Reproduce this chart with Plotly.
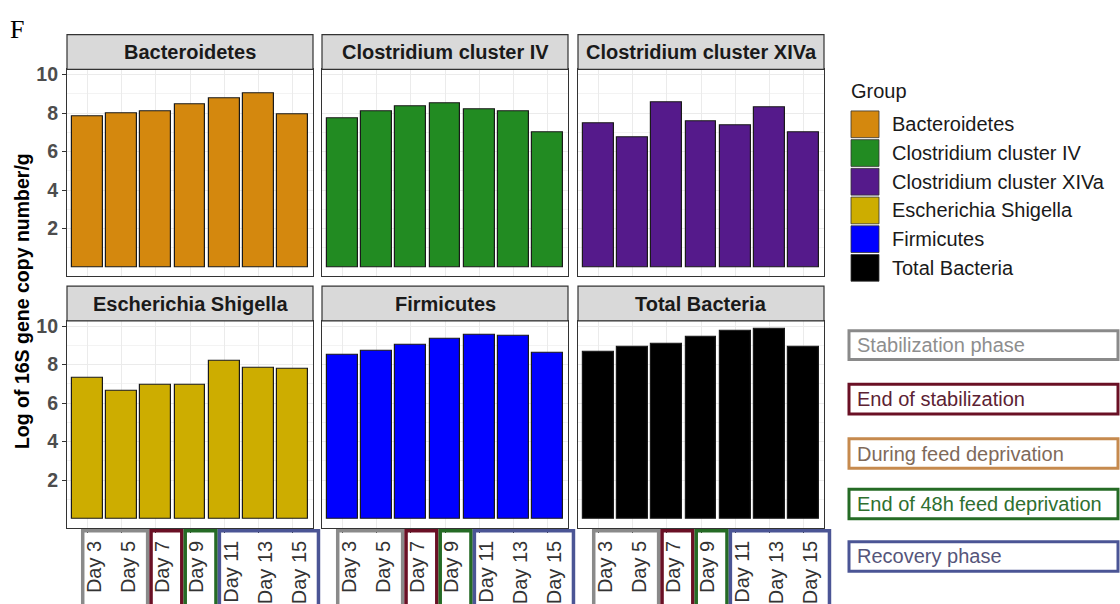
import plotly.graph_objects as go

# data (log10 16S copies per g)
days = ["Day 3", "Day 5", "Day 7", "Day 9", "Day 11", "Day 13", "Day 15"]
groups = ["Bacteroidetes", "Clostridium cluster IV", "Clostridium cluster XIVa",
          "Escherichia Shigella", "Firmicutes", "Total Bacteria"]
group_colors = ["#D4880E", "#228B22", "#551A8B", "#CDAD00", "#0000FF", "#000000"]

bacteroidetes = [7.85, 7.98, 8.10, 8.44, 8.75, 9.03, 7.93]
clostridium_iv = [7.71, 8.10, 8.36, 8.50, 8.17, 8.10, 6.99]
clostridium_xiva = [7.47, 6.74, 8.58, 7.59, 7.35, 8.32, 6.99]
escherichia_shigella = [7.33, 6.61, 6.92, 6.92, 8.18, 7.85, 7.78]
firmicutes = [8.48, 8.69, 9.04, 9.35, 9.56, 9.49, 8.62]
total_bacteria = [8.64, 8.92, 9.10, 9.44, 9.77, 9.83, 8.90]
series = [bacteroidetes, clostridium_iv, clostridium_xiva,
          escherichia_shigella, firmicutes, total_bacteria]

phase_names = ["Stabilization phase", "End of stabilization", "During feed deprivation",
               "End of 48h feed deprivation", "Recovery phase"]
phase_line = ["#8A8A8A", "#6A1025", "#C68A4E", "#256B25", "#4B5595"]
phase_text = ["#8E8E8E", "#5C2233", "#7F6A5A", "#2F6F2F", "#55557A"]
# which day indices are boxed under the x axis (During feed deprivation has none)
phase_days = [[0, 1], [2], [], [3], [4, 5, 6]]

W, H = 1120, 604
col_px = [(67, 313), (322, 568), (578, 824)]
row_px = [(64, 273), (318, 527)]
STRIP = 35
x_range = [-0.6, 6.6]
y_range = [-0.48, 10.27]
FONT = "Liberation Sans, Arial, sans-serif"


def px(v):
    return v / W


def py(v):
    return 1 - v / H


def cat_px(c, u):
    x0, x1 = col_px[c]
    return x0 + (u - x_range[0]) / (x_range[1] - x_range[0]) * (x1 - x0)


def label(text, x, y, size=20, color="#1A1A1A", xanchor="center", **kw):
    return dict(text=text, xref="paper", yref="paper", x=px(x), y=py(y),
                xanchor=xanchor, yanchor="middle", showarrow=False,
                font=dict(family=kw.pop("family", FONT), size=size, color=color,
                          weight=kw.pop("weight", "normal")), **kw)


fig = go.Figure()
shapes = []
annotations = []
layout = {}

for k in range(6):
    r, c = divmod(k, 3)
    sfx = "" if k == 0 else str(k + 1)
    fig.add_trace(go.Bar(
        x=days, y=series[k], width=0.9,
        marker=dict(color=group_colors[k], line=dict(color="#1A1A1A", width=1.2)),
        xaxis="x" + sfx, yaxis="y" + sfx, showlegend=False,
    ))
    (x0, x1), (y0, y1) = col_px[c], row_px[r]
    layout["xaxis" + sfx] = dict(
        domain=[px(x0), px(x1)], range=x_range, anchor="y" + sfx,
        showline=True, mirror=True, linecolor="#333333", linewidth=1.2,
        showgrid=True, gridcolor="#EBEBEB", gridwidth=1, zeroline=False,
        ticks="outside" if r == 1 else "", ticklen=4, tickcolor="#333333",
        showticklabels=(r == 1), tickangle=-90, ticklabelshift=7,
        tickfont=dict(family=FONT, size=20, color="#333333"),
    )
    layout["yaxis" + sfx] = dict(
        domain=[py(y1), py(y0)], range=y_range, anchor="x" + sfx,
        showline=True, mirror=True, linecolor="#333333", linewidth=1.2,
        tickvals=[2, 4, 6, 8, 10], showgrid=True, gridcolor="#EBEBEB", gridwidth=1,
        zeroline=False, minor=dict(tickvals=[1, 3, 5, 7, 9], showgrid=True,
                                   gridcolor="#F3F3F3", gridwidth=0.6),
        ticks="outside" if c == 0 else "", ticklen=4, tickcolor="#333333",
        showticklabels=(c == 0),
        tickfont=dict(family=FONT, size=19.5, color="#4D4D4D", weight="bold"),
    )
    # facet strip
    shapes.append(dict(type="rect", xref="paper", yref="paper",
                       x0=px(x0), x1=px(x1), y0=py(y0), y1=py(y0 - STRIP),
                       fillcolor="#D9D9D9", line=dict(color="#333333", width=1.2)))
    annotations.append(label(groups[k], (x0 + x1) / 2, y0 - STRIP / 2, weight="bold"))
    # phase boxes around the day labels
    if r == 1:
        for j, idx in enumerate(phase_days):
            if not idx:
                continue
            shapes.append(dict(type="rect", xref="paper", yref="paper",
                               x0=px(cat_px(c, idx[0] - 0.14)), x1=px(cat_px(c, idx[-1] + 0.76)),
                               y0=py(615), y1=py(530),
                               line=dict(color=phase_line[j], width=3.5)))

# y title and panel letter
annotations.append(label("Log of 16S gene copy number/g", 22, 298, size=19.5,
                         color="#000000", weight="bold", textangle=-90))
annotations.append(label("F", 8, 24, size=26, color="#000000", xanchor="left",
                         family="Liberation Serif, Times New Roman, serif"))

# group legend
annotations.append(label("Group", 849, 86, xanchor="left"))
for i, (g, col) in enumerate(zip(groups, group_colors)):
    top = 106 + 29 * i
    shapes.append(dict(type="rect", xref="paper", yref="paper",
                       x0=px(851), x1=px(879), y0=py(top + 27), y1=py(top),
                       fillcolor=col, line=dict(color="#333333", width=0.8)))
    annotations.append(label(g, 890, top + 13.5, xanchor="left"))

# phase legend
phase_rows = [(328, 357), (382, 412), (437, 467), (488, 518), (541, 571)]
for j, (t, b) in enumerate(phase_rows):
    shapes.append(dict(type="rect", xref="paper", yref="paper",
                       x0=px(849), x1=px(1118), y0=py(b), y1=py(t),
                       line=dict(color=phase_line[j], width=3)))
    annotations.append(label(phase_names[j], 855, (t + b) / 2, color=phase_text[j],
                             xanchor="left"))

fig.update_layout(
    width=W, height=H, margin=dict(l=0, r=0, t=0, b=0),
    paper_bgcolor="white", plot_bgcolor="white", bargap=0,
    shapes=shapes, annotations=annotations, **layout,
)

fig.write_html("out.html", config={"displayModeBar": False},
               post_script="document.body.style.margin = '0px';")
